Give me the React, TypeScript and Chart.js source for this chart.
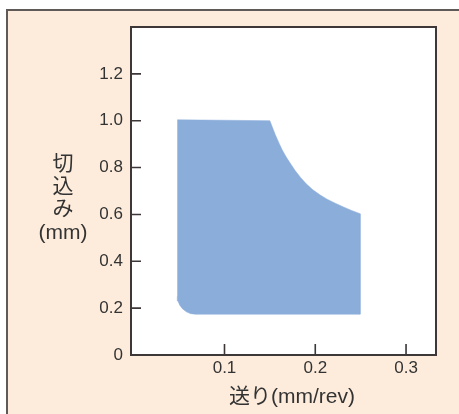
import React, { useEffect, useRef } from "react";
import { Chart, registerables } from "chart.js";

Chart.register(...registerables);

// Boundary of the usable region (feed in mm/rev, depth of cut in mm), traced clockwise
const boundaryFeed = [
  0.048, 0.150, 0.153, 0.156, 0.160, 0.1635, 0.168, 0.173, 0.178, 0.184, 0.190, 0.197, 0.205, 0.213,
  0.222, 0.231, 0.240, 0.2494,
  0.2494, 0.068, 0.0628, 0.058, 0.0539, 0.0507, 0.0487, 0.048,
];
const boundaryDepth = [
  1.004, 1.0, 0.97, 0.94, 0.905, 0.876, 0.845, 0.815, 0.786, 0.757, 0.731, 0.706, 0.684, 0.665,
  0.648, 0.632, 0.617, 0.603,
  0.174, 0.174, 0.1766, 0.1843, 0.1966, 0.2125, 0.231, 0.251,
];

const xTickValues = [0.1, 0.2, 0.3];
const yTickValues = [0, 0.2, 0.4, 0.6, 0.8, 1.0, 1.2];

const xTitle = "送り(mm/rev)";
const yTitleLines = ["切", "込", "み", "(mm)"];

const FONT = '"Liberation Sans", "Noto Sans CJK JP", Arial, sans-serif';
const TEXT = "#333333";
const FRAME = "#3d3737";

const framePlugin = {
  id: "frameAndTitles",
  beforeDraw(chart: any) {
    const { ctx, chartArea: a } = chart;
    ctx.save();
    ctx.fillStyle = "#ffffff";
    ctx.fillRect(a.left, a.top, a.right - a.left, a.bottom - a.top);
    ctx.restore();
  },
  afterDraw(chart: any) {
    const { ctx, chartArea: a } = chart;
    const xs = chart.scales.x;
    const ys = chart.scales.y;
    ctx.save();
    ctx.strokeStyle = FRAME;
    ctx.lineWidth = 1.6;
    ctx.beginPath();
    for (const v of xTickValues) {
      const px = xs.getPixelForValue(v);
      ctx.moveTo(px, a.bottom);
      ctx.lineTo(px, a.bottom - 11);
    }
    for (const v of yTickValues) {
      if (v === 0) continue;
      const py = ys.getPixelForValue(v);
      ctx.moveTo(a.left, py);
      ctx.lineTo(a.left + 10, py);
    }
    ctx.stroke();
    ctx.lineWidth = 2;
    ctx.strokeRect(a.left, a.top, a.right - a.left, a.bottom - a.top);

    ctx.fillStyle = TEXT;
    ctx.font = `21px ${FONT}`;
    ctx.textAlign = "center";
    ctx.textBaseline = "middle";
    ctx.fillText(xTitle, 292, 397);
    const ys0 = [164, 187, 209, 233];
    yTitleLines.forEach((t, i) => ctx.fillText(t, 63, ys0[i]));
    ctx.restore();
  },
};

export default function App() {
  const ref = useRef<HTMLCanvasElement | null>(null);

  useEffect(() => {
    if (!ref.current) return;
    const data = boundaryFeed.map((f, i) => ({ x: f, y: boundaryDepth[i] }));
    const chart = new Chart(ref.current, {
      type: "scatter",
      data: {
        datasets: [
          {
            data,
            showLine: true,
            fill: "shape",
            backgroundColor: "#8badda",
            borderColor: "#8badda",
            borderWidth: 0.5,
            pointRadius: 0,
            tension: 0,
          } as any,
        ],
      },
      options: {
        animation: false,
        responsive: false,
        devicePixelRatio: 1,
        layout: { padding: { left: 0, right: 23, top: 27, bottom: 0 } },
        plugins: { legend: { display: false }, tooltip: { enabled: false } },
        scales: {
          x: {
            type: "linear",
            min: -0.003,
            max: 0.333,
            afterFit: (s: any) => {
              s.height = 59;
            },
            afterBuildTicks: (s: any) => {
              s.ticks = xTickValues.map((v) => ({ value: v }));
            },
            grid: { display: false, drawTicks: false },
            border: { display: false },
            ticks: {
              color: TEXT,
              font: { family: FONT, size: 17 },
              padding: 3,
              maxRotation: 0,
              autoSkip: false,
              callback: (v: any) => Number(v).toFixed(1),
            },
          },
          y: {
            type: "linear",
            min: 0,
            max: 1.4,
            afterFit: (s: any) => {
              s.width = 131;
            },
            afterBuildTicks: (s: any) => {
              s.ticks = yTickValues.map((v) => ({ value: v }));
            },
            grid: { display: false, drawTicks: false },
            border: { display: false },
            ticks: {
              color: TEXT,
              font: { family: FONT, size: 17 },
              padding: 8,
              autoSkip: false,
              callback: (v: any) => (Number(v) === 0 ? "0" : Number(v).toFixed(1)),
            },
          },
        },
      },
      plugins: [framePlugin],
    });
    return () => chart.destroy();
  }, []);

  return (
    <div style={{ position: "fixed", left: 0, top: 0, width: 459, height: 414, background: "#ffffff", overflow: "hidden" }}>
      <div
        style={{
          position: "absolute",
          left: 6,
          top: 9,
          width: 470,
          height: 420,
          background: "#fdecdc",
          borderLeft: "2px solid #5f5a58",
          borderTop: "2px solid #5f5a58",
        }}
      />
      <canvas ref={ref} width={459} height={414} style={{ position: "absolute", left: 0, top: 0 }} />
    </div>
  );
}
